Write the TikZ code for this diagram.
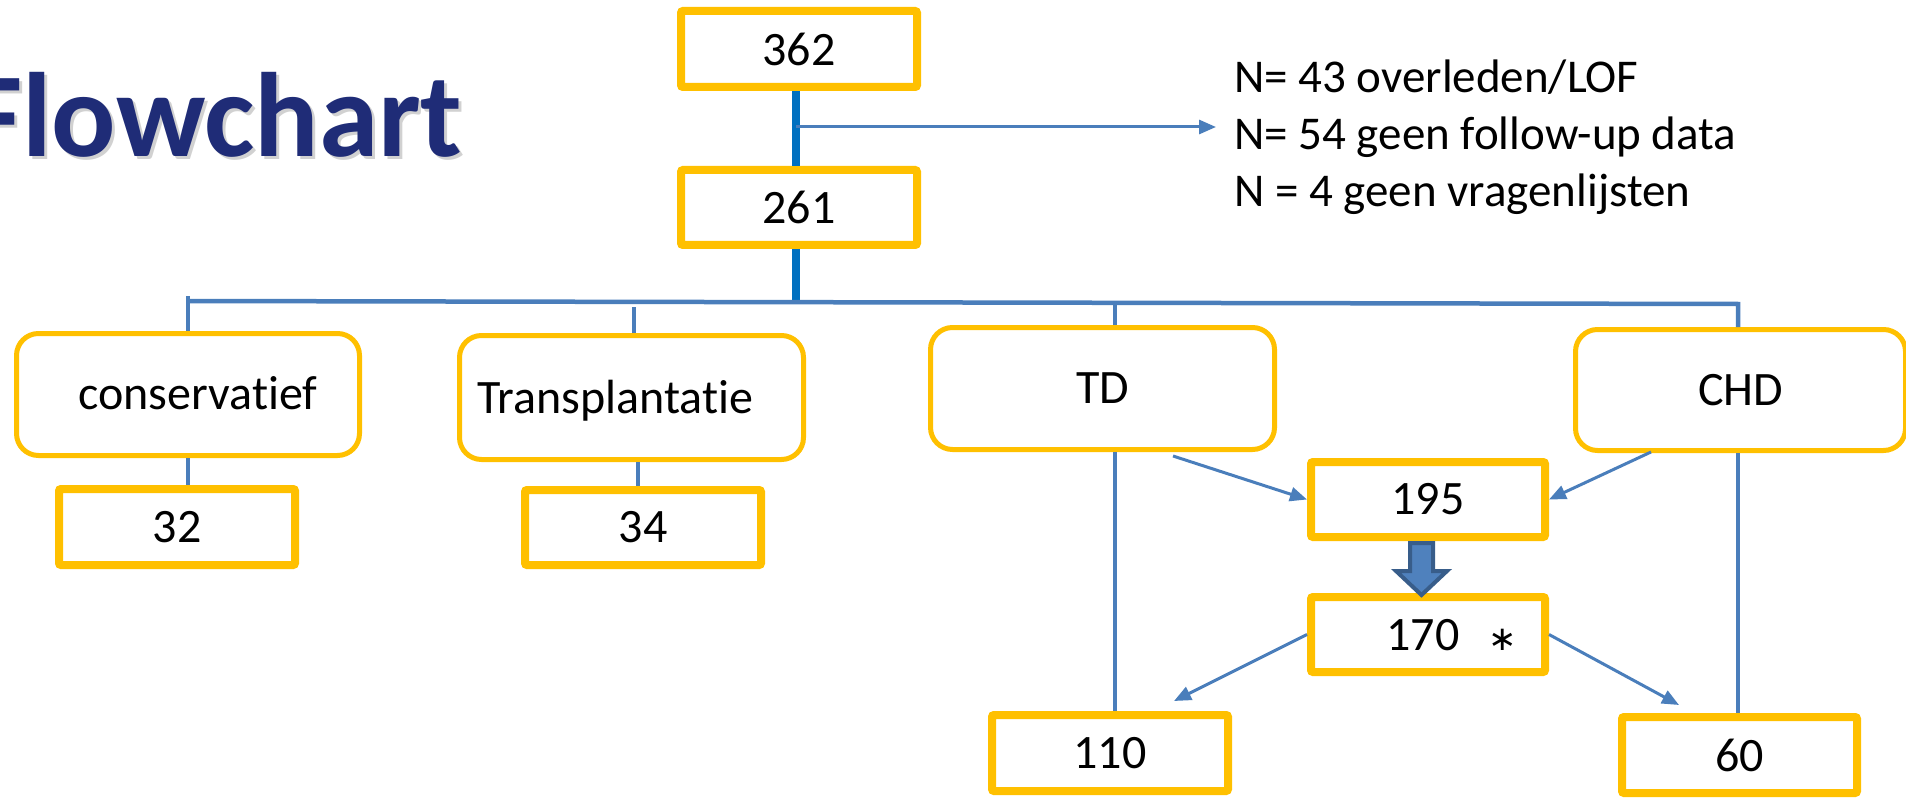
\documentclass[tikz,border=0pt]{standalone}
\usepackage{fontspec}
\setmainfont{Carlito}[Ligatures=NoCommon]
\newfontfamily\djv{DejaVu Sans}
\usetikzlibrary{arrows.meta,calc}
\definecolor{gold}{HTML}{FFC000}
\definecolor{conblue}{HTML}{4A7EBB}
\definecolor{thickblue}{HTML}{0070C0}
\definecolor{navy}{HTML}{1F2C77}
\definecolor{bafill}{HTML}{4F81BD}
\definecolor{badraw}{HTML}{385D8A}
\begin{document}
\begin{tikzpicture}[x=1pt,y=-1pt,
  txt/.style={font=\fontsize{48}{57}\selectfont},
  numbox/.style={draw=gold, line width=8pt, rounded corners=2pt, fill=white,
    minimum width=236pt, minimum height=76pt, inner sep=0pt, txt},
  catbox/.style={draw=gold, line width=5pt, rounded corners=22pt, fill=white,
    inner sep=0pt, txt},
  conn/.style={draw=conblue, line width=4pt},
  busline/.style={draw=conblue, line width=4.5pt},
  arr/.style={draw=conblue, line width=3pt, -{Triangle[length=17pt,width=14pt]}},
  thickln/.style={draw=thickblue, line width=8pt},
  lbl/.style={inner sep=0pt, txt},
  exl/.style={inner sep=0pt, anchor=base west, font=\fontsize{47}{57}\selectfont},
  blockarrow/.style={fill=bafill, draw=badraw, line width=4pt, line join=miter},
  titlefont/.style={inner sep=0pt, anchor=base west, font=\fontsize{120}{144}\selectfont\bfseries}
]
\useasboundingbox (0,0) rectangle (1906,802);

% title
\node[titlefont, text=black, opacity=0.18] (titleshadow) at (-30,160) {Flowchart};
\node[titlefont, text=navy] (title) at (-33,157) {Flowchart};

% number boxes
\node[numbox] (n362) at (799,49) {362};
\node[numbox, minimum height=75pt] (n261) at (799,207.5) {261};
\node[numbox] (n32) at (177,527) {32};
\node[numbox, minimum height=75pt] (n34) at (643,527.5) {34};
\node[numbox, minimum width=234pt, minimum height=75pt] (n195) at (1428,499.5) {195};
\node[numbox, minimum width=234pt, minimum height=75pt] (n170) at (1428,634.5) {};
\node[lbl, anchor=base] (t170) at (1423,650) {170};
\node[inner sep=0pt, font=\djv\fontsize{34}{40}\selectfont] (ast) at (1503,640) {∗};
\node[numbox] (n110) at (1110,753) {110};
\node[numbox, minimum width=235pt] (n60) at (1739.5,755) {60};

% category boxes
\node[catbox, minimum width=343pt, minimum height=122pt] (cons) at (188,394.5) {};
\node[lbl, anchor=base] (tcons) at (198,409) {conservatief};
\node[catbox, minimum width=344pt, minimum height=124pt] (trans) at (631.5,397.5) {};
\node[lbl, anchor=base] (ttrans) at (615.5,413) {Transplantatie};
\node[catbox, minimum width=344pt, minimum height=122pt] (td) at (1102.5,388.5) {TD};
\node[catbox, minimum width=330pt, minimum height=121pt] (chd) at (1740.5,390) {CHD};

% exclusion text
\node[exl] (ex1) at (1234,93) {N= 43 overleden/LOF};
\node[exl] (ex2) at (1234,150) {N= 54 geen follow-up data};
\node[exl] (ex3) at (1234,207) {N = 4 geen vragenlijsten};

% trunk
\coordinate (split) at (796,127);
\coordinate (busT) at (796,300);
\draw[thickln] (n362.south -| split) -- (n261.north -| split);
\draw[thickln] (n261.south -| split) -- (busT);
\draw[arr, shorten >=18pt] (split) -- (split -| ex2.west);

% bus
\coordinate (busL) at (187,301);
\coordinate (busR) at (1738,304);
\draw[busline] (busL) -- (busR) -- (busR |- chd.north);
\draw[conn] (cons.north) -- ++(0,-35);
\coordinate (transtop) at ([xshift=2.5pt]trans.north);
\draw[conn] (transtop) -- ++(0,-26);
\coordinate (tdtop) at ([xshift=12.5pt]td.north);
\draw[conn] (tdtop) -- ++(0,-24);

% drops
\draw[conn] (cons.south) -- (cons.south |- n32.north);
\coordinate (transbot) at ([xshift=6.5pt]trans.south);
\draw[conn] (transbot) -- (transbot |- n34.north);
\coordinate (tdbot) at ([xshift=12.5pt]td.south);
\draw[conn] (tdbot) -- (tdbot |- n110.north);
\coordinate (chdbot) at ([xshift=-2.5pt]chd.south);
\draw[conn] (chdbot) -- (chdbot |- n60.north);

% diagonal arrows
\draw[arr] ([xshift=70.5pt,yshift=-4pt]td.south) -- (n195.west);
\draw[arr] ([xshift=-89.5pt,yshift=1pt]chd.south) -- (n195.east);
\draw[arr] (n170.west) -- ([xshift=64pt,yshift=10pt]n110.north);
\draw[arr] (n170.east) -- ([xshift=-60.5pt,yshift=8pt]n60.north);

% block arrow 195 -> 170
\draw[blockarrow] (1410,543) -- (1433,543) -- (1433,571) -- (1447,571)
  -- (1421.5,595) -- (1396,571) -- (1410,571) -- cycle;
\end{tikzpicture}
\end{document}
